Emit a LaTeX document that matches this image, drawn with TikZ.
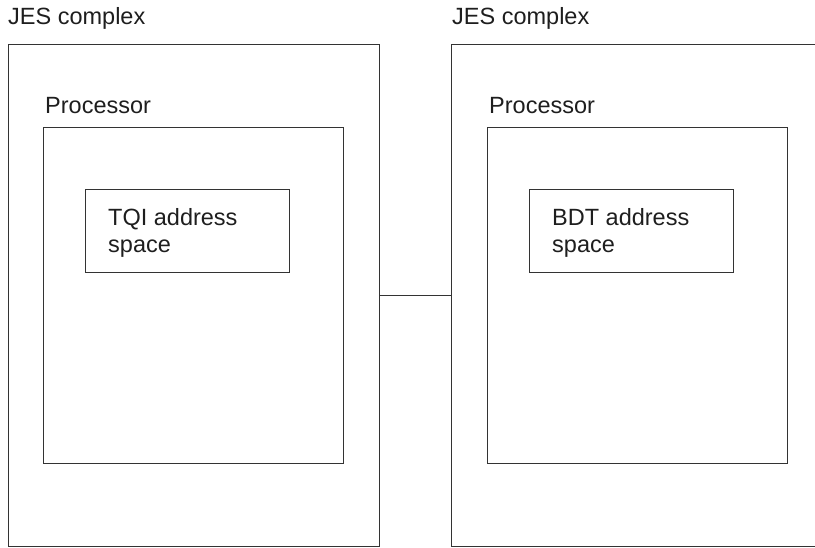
\documentclass[tikz,border=0pt]{standalone}
\usepackage{fontspec}
\setmainfont{Liberation Sans}
\definecolor{ln}{HTML}{333333}
\definecolor{tx}{HTML}{1E1E1E}
\begin{document}
\begin{tikzpicture}[x=1pt,y=-1pt,
  box/.style={draw=ln,line width=1.1pt,anchor=north west,inner sep=0pt},
  lbl/.style={anchor=base west,inner sep=0pt,text=tx,font=\fontsize{23.5}{27}\selectfont}]
\useasboundingbox (0,0) rectangle (815,547);
\clip (0,0) rectangle (815,547);
% outer boxes
\node[box,minimum width=371pt,minimum height=502pt] (lout) at (8,44) {};
\node[box,minimum width=371pt,minimum height=502pt] (rout) at (451,44) {};
% processors
\node[box,minimum width=300pt,minimum height=336pt] (lproc) at (43,127) {};
\node[box,minimum width=300pt,minimum height=336pt] (rproc) at (487,127) {};
% address spaces
\node[box,minimum width=204pt,minimum height=83pt] (tqi) at (85,189) {};
\node[box,minimum width=204pt,minimum height=83pt] (bdt) at (529,189) {};
% connector
\draw[draw=ln,line width=1.1pt] (lout.east) -- (rout.west);
% labels
\node[lbl] (ljes) at (8,24) {JES complex};
\node[lbl] (rjes) at (452,24) {JES complex};
\node[lbl] (lpl) at (45,113) {Processor};
\node[lbl] (rpl) at (489,113) {Processor};
\node[lbl,align=left] (tqit) at (108,225) {TQI address};
\node[lbl] (tqit2) at (108,252) {space};
\node[lbl] (bdtt) at (552,225) {BDT address};
\node[lbl] (bdtt2) at (552,252) {space};
\end{tikzpicture}
\end{document}
